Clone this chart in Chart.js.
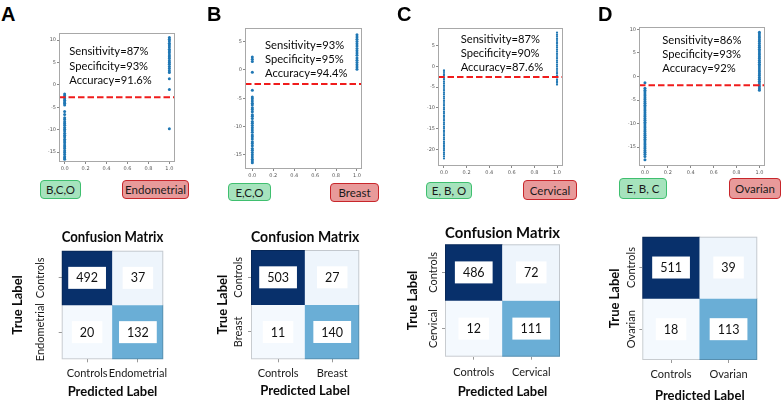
<!DOCTYPE html>
<html lang="en">
<head>
<meta charset="utf-8">
<title>Clasificadores por tipo de cáncer</title>
<script src="https://cdn.jsdelivr.net/npm/chart.js@4.4.1/dist/chart.umd.min.js"></script>
<style>
  html, body { margin: 0; padding: 0; background: #fff; }
  #lienzo { position: relative; width: 784px; height: 405px; overflow: hidden; font-family: Lato, sans-serif; }
  #lienzo canvas { position: absolute; }
  .letra { position: absolute; font: bold 20px "Liberation Sans", Arial, sans-serif; line-height: 20px; color: #000; }
  .metricas { position: absolute; font-size: 11.2px; color: #0a0a0a; white-space: nowrap; }
  .caja { position: absolute; box-sizing: border-box; border: 1.3px solid; border-radius: 4px; display: flex;
          align-items: center; justify-content: center; font-size: 11.5px; color: #1a1a1a; white-space: nowrap; }
  .caja.control { background: #a6e3bd; border-color: #3fbf6f; }
  .caja.cancer { background: #e89a9a; border-color: #c8262b; }
</style>
</head>
<body>
<div id="lienzo"></div>
<script>
// Figura de 4 paneles: puntuaciones del clasificador (arriba) y matriz de confusión (abajo).

// Textos de cada panel.
const PANELES = ["A", "B", "C", "D"];
const GRUPO_CONTROL = ["B,C,O", "E,C,O", "E, B, O", "E, B, C"];
const GRUPO_CANCER = ["Endometrial", "Breast", "Cervical", "Ovarian"];
const SENSIBILIDAD = ["87%", "93%", "87%", "86%"];
const ESPECIFICIDAD = ["93%", "95%", "90%", "93%"];
const EXACTITUD = ["91.6%", "94.4%", "87.6%", "92%"];

// Umbral de decisión (línea roja discontinua).
const UMBRAL = [-2.77, -2.5, -2.6, -1.85];

// Puntuaciones. _0 = clase 0.0, _1 = clase 1.0
const PUNT_A_0 = [-2.0, -2.4, -2.7, -3.1, -3.4, -3.8, -4.1, -4.5, -5.9, -6.6, -7.3, -7.7, -8.2, -8.6, -9.0, -9.5,
  -9.9, -10.3, -10.8, -11.2, -11.6, -12.1, -12.5, -12.9, -13.4, -13.8, -14.2, -14.7, -15.1, -15.5, -16.0, -16.3, -16.6];
const PUNT_A_1 = [10.6, 10.2, 9.8, 9.3, 8.9, 8.5, 8.0, 7.6, 7.2, 6.7, 6.3, 5.9, 5.4, 5.0, 4.6, 4.1, 3.7, 3.2, 2.8,
  1.4, -1.0, -9.8];
const PUNT_B_0 = [2.3, 1.9, 1.5, -0.4, -3.6, -4.8, -5.1, -5.5, -5.9, -6.2, -6.7, -7.0, -7.4, -7.9, -8.2, -8.6, -9.1,
  -9.4, -9.8, -10.2, -10.6, -11.0, -11.5, -11.8, -12.2, -12.7, -13.0, -13.4, -13.9, -14.2, -14.6, -15.0, -15.4,
  -15.8, -16.1, -16.4];
const PUNT_B_1 = [6.2, 5.8, 5.4, 5.0, 4.6, 4.2, 3.8, 3.4, 3.0, 2.6, 2.1, 1.7, 1.3, 0.9, 0.5, 0.1];
const PUNT_C_0 = [-1.0, -1.4, -1.9, -2.3, -2.8, -3.2, -3.7, -4.1, -4.6, -5.0, -5.5, -5.9, -6.4, -6.8, -7.3, -7.7,
  -8.2, -8.6, -9.1, -9.5, -10.0, -10.4, -10.9, -11.3, -11.8, -12.2, -12.7, -13.1, -13.6, -14.0, -14.5, -14.9, -15.4,
  -15.8, -16.3, -16.7, -17.2, -17.6, -18.1, -18.5, -19.0, -19.4, -19.9, -20.3, -20.8, -21.2, -21.7, -22.2];
const PUNT_C_1 = [8.1, 7.6, 7.2, 6.7, 6.3, 5.8, 5.4, 4.9, 4.5, 4.0, 3.6, 3.1, 2.7, 2.2, 1.8, 1.3, 0.9, 0.4, 0.0,
  -0.5, -0.9, -1.4, -1.8, -2.3, -2.7, -3.2, -3.6, -4.0, -4.4];
const PUNT_D_0 = [-1.35, -2.5, -2.9, -3.3, -3.7, -4.1, -4.5, -4.9, -5.3, -5.7, -6.1, -6.5, -6.9, -7.3, -7.7, -8.1,
  -8.5, -8.9, -9.3, -9.7, -10.1, -10.5, -10.9, -11.3, -11.7, -12.1, -12.5, -12.9, -13.3, -13.7, -14.1, -14.5, -14.9,
  -15.3, -15.7, -16.1, -16.5, -17.0, -17.7];
const PUNT_D_1 = [9.4, 9.0, 8.6, 8.2, 7.8, 7.4, 7.0, 6.6, 6.2, 5.8, 5.4, 5.0, 4.6, 4.2, 3.8, 3.4, 3.0, 2.6, 2.2, 1.8,
  1.4, 1.0, 0.6, 0.2, -0.2, -0.6, -1.0, -1.4, -1.8, -2.2, -2.6, -2.9];
const PUNTUACIONES_0 = [PUNT_A_0, PUNT_B_0, PUNT_C_0, PUNT_D_0];
const PUNTUACIONES_1 = [PUNT_A_1, PUNT_B_1, PUNT_C_1, PUNT_D_1];

// Matrices de confusión: filas = real (Controls, cáncer), columnas = predicho.
const MATRIZ_A = [[492, 37], [20, 132]];
const MATRIZ_B = [[503, 27], [11, 140]];
const MATRIZ_C = [[486, 72], [12, 111]];
const MATRIZ_D = [[511, 39], [18, 113]];
const MATRICES = [MATRIZ_A, MATRIZ_B, MATRIZ_C, MATRIZ_D];
const TITULO_MATRIZ = ["Confusion Matrix", "Confusion Matrix", "Confusion Matrix", ""];

// ---- Maquetación (posiciones en px y estilos) ----
const POS_LETRA = [[1, 4.4], [207, 4.4], [397, 4.4], [598, 4.4]];
const POS_METRICAS = [[69.3, 44.2, 14.5], [265, 37.5, 14.35], [460.7, 31.5, 14], [662.3, 32.5, 14.35]];
const POS_CAJAS = [
  [[40, 180, 41, 19], [122, 180, 67, 19]],
  [[228, 183, 43, 18], [330, 183, 49, 19]],
  [[426, 182, 46, 17], [523, 180, 54, 20]],
  [[619, 178, 48, 21], [729, 178, 52, 21]],
];
// Área de dibujo de cada dispersión y límites de ejes.
const CAJAS_DISP = [
  { l: 58.7, t: 33, r: 175, b: 162, xMin: -0.054, xMax: 1.054, yMin: -17.2, yMax: 11.6, radio: 1.5 },
  { l: 245, t: 28.3, r: 361.7, b: 169, xMin: -0.07, xMax: 1.048, yMin: -17.5, yMax: 7.4, radio: 1.5 },
  { l: 438.3, t: 28.3, r: 563.3, b: 166.7, xMin: -0.053, xMax: 1.053, yMin: -24, yMax: 9.2, radio: 1.1 },
  { l: 639.3, t: 26.7, r: 765.3, b: 166, xMin: -0.052, xMax: 1.049, yMin: -19, yMax: 10.5, radio: 1.5 },
];
// Matrices: área de celdas y posiciones de los textos.
const CAJAS_MATRIZ = [
  { off: 0, ancho: 196, l: 61.7, t: 250.7, r: 163.3, b: 359.3, tituloY: 236.7, tickY: 372.3, predY: 392.3, trueX: 18.3, ytickX: 40 },
  { off: 195, ancho: 196, l: 251, t: 250, r: 359.3, b: 359.3, tituloY: 237.3, tickY: 372.3, predY: 391.3, trueX: 223.3, ytickX: 238.3 },
  { off: 390, ancho: 196, l: 445, t: 244.3, r: 560, b: 356.7, tituloY: 233.3, tickY: 371, predY: 391.7, trueX: 413.3, ytickX: 433.3 },
  { off: 585, ancho: 199, l: 642.3, t: 236.7, r: 757.3, b: 360, tituloY: 0, tickY: 373.3, predY: 396, trueX: 615, ytickX: 631.7 },
];
const COLORES_CELDA = [["#08306b", "#eef5fc"], ["#f4f9fe", "#6aaed6"]];

Chart.defaults.font.family = "Lato";
const lienzo = document.getElementById("lienzo");

function crearCanvas(izq, arriba, ancho, alto) {
  const c = document.createElement("canvas");
  c.width = Math.round(ancho);
  c.height = Math.round(alto);
  c.style.left = izq + "px";
  c.style.top = arriba + "px";
  lienzo.appendChild(c);
  return c;
}

function crearDiv(clase, texto, izq, arriba) {
  const d = document.createElement("div");
  d.className = clase;
  d.textContent = texto;
  d.style.left = izq + "px";
  d.style.top = arriba + "px";
  lienzo.appendChild(d);
  return d;
}

const ctxMedida = document.createElement("canvas").getContext("2d");
function medirTexto(texto, fuente) {
  ctxMedida.font = fuente;
  return ctxMedida.measureText(texto).width;
}

// Marco alrededor del área de datos (los "spines" de matplotlib).
const marco = {
  id: "marco",
  afterDatasetsDraw(chart, args, opts) {
    const { ctx, chartArea: a } = chart;
    ctx.save();
    ctx.strokeStyle = opts.color;
    ctx.lineWidth = 1;
    ctx.strokeRect(a.left + 0.5, a.top + 0.5, a.width - 1, a.height - 1);
    ctx.restore();
  },
};

// Número de cada celda sobre un recuadro blanco.
const numerosCeldas = {
  id: "numerosCeldas",
  afterDatasetsDraw(chart) {
    const ctx = chart.ctx;
    ctx.save();
    ctx.font = "12.5px Lato";
    ctx.textAlign = "center";
    ctx.textBaseline = "middle";
    chart.data.datasets.forEach((ds, i) => {
      chart.getDatasetMeta(i).data.forEach((barra, j) => {
        const texto = String(ds.valores[j]);
        const w = ctx.measureText(texto).width;
        const cx = barra.x;
        const cy = (barra.y + barra.base) / 2;
        ctx.fillStyle = "#fff";
        ctx.fillRect(cx - w / 2 - 8, cy - 11, w + 16, 22);
        ctx.fillStyle = "#111";
        ctx.fillText(texto, cx, cy + 0.5);
      });
    });
    ctx.restore();
  },
};

function dibujarDispersion(i) {
  const c = CAJAS_DISP[i];
  const mIzq = 26, mArr = 6, mDer = 4, mAba = 12;
  const canvas = crearCanvas(c.l - mIzq, c.t - mArr, c.r - c.l + mIzq + mDer, c.b - c.t + mArr + mAba);
  const punto = { pointRadius: c.radio, pointBackgroundColor: "#1f77b4", pointBorderWidth: 0 };
  new Chart(canvas, {
    type: "scatter",
    data: {
      datasets: [
        {
          data: [{ x: c.xMin, y: UMBRAL[i] }, { x: c.xMax, y: UMBRAL[i] }],
          showLine: true, borderColor: "#f01c1c", borderWidth: 2, borderDash: [6.5, 3], pointRadius: 0,
        },
        { data: PUNTUACIONES_0[i].map((y) => ({ x: 0, y })), ...punto },
        { data: PUNTUACIONES_1[i].map((y) => ({ x: 1, y })), ...punto },
      ],
    },
    options: {
      responsive: false,
      animation: false,
      events: [],
      layout: { padding: { top: mArr, right: mDer } },
      plugins: { legend: { display: false }, tooltip: { enabled: false }, marco: { color: "#a8a8a8" } },
      scales: {
        x: {
          type: "linear", min: c.xMin, max: c.xMax,
          afterFit: (s) => { s.height = mAba; },
          border: { display: false },
          grid: { drawOnChartArea: false, tickLength: 2, color: "#888" },
          ticks: {
            stepSize: 0.2, includeBounds: false, autoSkip: false, maxRotation: 0, padding: 2,
            font: { size: 5, family: "DejaVu Sans" }, color: "#555", callback: (v) => v.toFixed(1),
          },
        },
        y: {
          min: c.yMin, max: c.yMax,
          afterFit: (s) => { s.width = mIzq; },
          border: { display: false },
          grid: { drawOnChartArea: false, tickLength: 2, color: "#888" },
          ticks: {
            stepSize: 5, includeBounds: false, padding: 1,
            font: { size: 5, family: "DejaVu Sans" }, color: "#555", callback: (v) => String(v),
          },
        },
      },
    },
    plugins: [marco],
  });
}

function dibujarMatriz(i) {
  const c = CAJAS_MATRIZ[i];
  const arriba = 215, abajo = 405;
  const canvas = crearCanvas(c.off, arriba, c.ancho, abajo - arriba);
  const m = MATRICES[i];
  const hayTitulo = TITULO_MATRIZ[i] !== "";
  const altoTitulo = 15 * 1.2;
  const padTitArriba = c.tituloY - arriba - altoTitulo / 2;
  const padTitAbajo = c.t - arriba - padTitArriba - altoTitulo;
  const etiquetas = ["Controls", GRUPO_CANCER[i]];
  const anchoEtiqueta = Math.max(...etiquetas.map((t) => medirTexto(t, "11px Lato")));
  const altoTituloEje = 13 * 1.2;

  new Chart(canvas, {
    type: "bar",
    data: {
      labels: etiquetas,
      datasets: m.map((fila, f) => ({
        data: fila.map(() => [1 - f, 2 - f]),
        valores: fila,
        backgroundColor: COLORES_CELDA[f],
        grouped: false, barPercentage: 1, categoryPercentage: 1, borderWidth: 0,
      })),
    },
    options: {
      responsive: false,
      animation: false,
      events: [],
      layout: { padding: { top: hayTitulo ? 0 : c.t - arriba, right: c.off + c.ancho - c.r } },
      plugins: {
        legend: { display: false },
        tooltip: { enabled: false },
        marco: { color: "rgba(0,0,0,0.18)" },
        title: {
          display: hayTitulo, text: TITULO_MATRIZ[i], fullSize: false, color: "#0a0a0a",
          font: { size: 15, weight: "bold" }, padding: { top: padTitArriba, bottom: padTitAbajo },
        },
      },
      scales: {
        x: {
          afterFit: (s) => { s.height = abajo - c.b; },
          border: { display: false },
          grid: { offset: false, drawOnChartArea: false, tickLength: 3, color: "#999" },
          ticks: { font: { size: 11 }, color: "#1a1a1a", maxRotation: 0, minRotation: 0, autoSkip: false,
                   padding: c.tickY - c.b - 3 - 5.6 },
          title: {
            display: true, text: "Predicted Label", color: "#0a0a0a", font: { size: 13, weight: "bold" },
            padding: { top: 0, bottom: abajo - c.predY - altoTituloEje / 2 },
          },
        },
        y: {
          min: 0, max: 2,
          afterFit: (s) => { s.width = c.l - c.off; },
          afterBuildTicks: (s) => { s.ticks = [{ value: 0.5 }, { value: 1.5 }]; },
          border: { display: false },
          grid: { drawOnChartArea: false, tickLength: 3, color: "#999" },
          ticks: {
            font: { size: 11 }, color: "#1a1a1a", minRotation: 90, maxRotation: 90, crossAlign: "center",
            padding: c.l - c.ytickX - 3 - anchoEtiqueta / 2,
            callback: (v) => (v === 1.5 ? etiquetas[0] : etiquetas[1]),
          },
          title: {
            display: true, text: "True Label", color: "#0a0a0a", font: { size: 13, weight: "bold" },
            padding: { top: c.trueX - c.off - altoTituloEje / 2, bottom: 0 },
          },
        },
      },
    },
    plugins: [numerosCeldas, marco],
  });
}

PANELES.forEach((letra, i) => {
  dibujarDispersion(i);
  dibujarMatriz(i);

  crearDiv("letra", letra, POS_LETRA[i][0], POS_LETRA[i][1]);

  const [mx, my, interlineado] = POS_METRICAS[i];
  const met = crearDiv("metricas", "", mx, my);
  met.style.lineHeight = interlineado + "px";
  met.innerHTML = "Sensitivity=" + SENSIBILIDAD[i] + "<br>Specificity=" + ESPECIFICIDAD[i] +
    "<br>Accuracy=" + EXACTITUD[i];

  [["control", GRUPO_CONTROL[i]], ["cancer", GRUPO_CANCER[i]]].forEach(([tipo, texto], k) => {
    const [x, y, w, h] = POS_CAJAS[i][k];
    const caja = crearDiv("caja " + tipo, texto, x, y);
    caja.style.width = w + "px";
    caja.style.height = h + "px";
  });
});
</script>
</body>
</html>
